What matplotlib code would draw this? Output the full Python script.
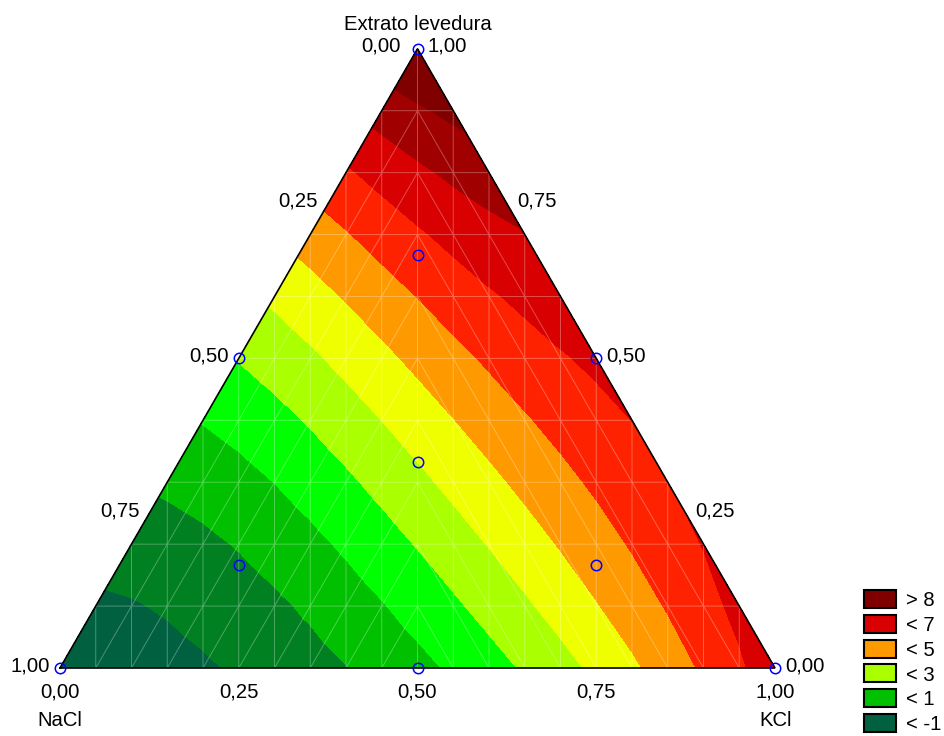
import numpy as np
import matplotlib
matplotlib.use("Agg")
import matplotlib.pyplot as plt
import matplotlib.tri as mtri
from matplotlib.patches import Rectangle

plt.rcParams['font.family'] = ['Liberation Sans', 'DejaVu Sans']

# ---------------- data ----------------
component_names = ['NaCl', 'KCl', 'Extrato levedura']
# fitted mixture model (Scheffé type), coefficients estimated from the contours
coef_linear = [-1.63, 6.60, 9.08]          # NaCl, KCl, Extrato
coef_binary = [-7.06, -6.70, -6.60]        # NaCl*KCl, NaCl*Extrato, KCl*Extrato
coef_ternary = [-8.8, 31.7, 24.2]          # N²KY, NK²Y, NKY²
# design points (fractions)
design_nacl = [1.0, 0.0, 0.0, 0.5, 0.5, 0.0, 2/3, 1/6, 1/6, 1/3]
design_kcl = [0.0, 1.0, 0.0, 0.5, 0.0, 0.5, 1/6, 2/3, 1/6, 1/3]
design_yeast = [0.0, 0.0, 1.0, 0.0, 0.5, 0.5, 1/6, 1/6, 2/3, 1/3]
contour_levels = [-1, 0, 1, 2, 3, 4, 5, 6, 7, 8]
band_colors = ['#006040', '#008020', '#00C000', '#00FF00', '#AAFF00', '#F0FF00',
               '#FF9900', '#FF2200', '#D80000', '#A00000', '#800000']
legend_labels = ['> 8', '< 7', '< 5', '< 3', '< 1', '< -1']
legend_colors = ['#800000', '#D80000', '#FF9900', '#AAFF00', '#00C000', '#006040']
tick_values = [0.0, 0.25, 0.50, 0.75, 1.0]
tick_labels = ['0,00', '0,25', '0,50', '0,75', '1,00']

# ---------------- figure ----------------
W, H = 944, 736
fig = plt.figure(figsize=(W / 100, H / 100), dpi=100)
ax = fig.add_axes([0, 0, 1, 1])
S = 715.0          # pixels per unit
X0, Y0 = 60.0, 668.0
ax.set_xlim(-X0 / S, (W - X0) / S)
ax.set_ylim((Y0 - H) / S, Y0 / S)
ax.axis('off')
h = np.sqrt(3) / 2


def tern(n, k, y):
    k = np.asarray(k, float); y = np.asarray(y, float)
    return k + y / 2, y * h


def px(x, y):
    return (x - X0) / S, (Y0 - y) / S


# mesh of the surface (rows in steps of 0.1, columns in steps of 0.05)
NY_, NX_ = 10, 20
xs, ys, index = [], [], {}
for k in range(NY_ + 1):
    for i in range(k, NX_ - k + 1):
        index[(k, i)] = len(xs)
        xs.append(i / NX_)
        ys.append(k / NY_ * h)
tris = []
for k in range(NY_):
    tris.append([index[(k, k)], index[(k, k + 1)], index[(k + 1, k + 1)]])
    tris.append([index[(k, NX_ - 1 - k)], index[(k, NX_ - k)], index[(k + 1, NX_ - 1 - k)]])
    for i in range(k + 1, NX_ - 1 - k):
        a, b = index[(k, i)], index[(k, i + 1)]
        c, d = index[(k + 1, i)], index[(k + 1, i + 1)]
        if i < NX_ // 2:
            tris += [[a, b, d], [a, d, c]]
        else:
            tris += [[a, b, c], [b, d, c]]
xs = np.array(xs); ys = np.array(ys)
Yf = ys / h
Kf = np.clip(xs - Yf / 2, 0, 1)
Nf = np.clip(1 - Kf - Yf, 0, 1)
cl, cb, ct = coef_linear, coef_binary, coef_ternary
Z = (cl[0] * Nf + cl[1] * Kf + cl[2] * Yf
     + cb[0] * Nf * Kf + cb[1] * Nf * Yf + cb[2] * Kf * Yf
     + Nf * Kf * Yf * (ct[0] * Nf + ct[1] * Kf + ct[2] * Yf))
tri = mtri.Triangulation(xs, ys, np.array(tris))

ax.tricontourf(tri, Z, levels=[-1e6] + contour_levels + [1e6], colors=band_colors)
ax.triplot(tri, color='white', lw=0.7, alpha=0.3)
ax.plot([0, 1, 0.5, 0], [0, 0, h, 0], color='black', lw=1.2, solid_joinstyle='miter')

dx, dy = tern(design_nacl, design_kcl, design_yeast)
ax.plot(dx, dy, 'o', mfc='none', mec='#0000FF', ms=7.5, mew=1.1, clip_on=False)

fs = 14.6
# left edge: NaCl fraction
for v, lab in zip(tick_values, tick_labels):
    ex, ey = tern(v, 0, 1 - v)
    off = -17 if v == 0 else -10
    ax.text(ex + off / S, ey - 3 / S, lab, ha='right', va='baseline', fontsize=fs)
# right edge: Extrato fraction
for v, lab in zip(tick_values, tick_labels):
    ex, ey = tern(0, 1 - v, v)
    ax.text(ex + 10 / S, ey - 3 / S, lab, ha='left', va='baseline', fontsize=fs)
# bottom edge: KCl fraction
for v, lab in zip(tick_values, tick_labels):
    ex, ey = tern(1 - v, v, 0)
    ax.text(ex, ey - 30 / S, lab, ha='center', va='baseline', fontsize=fs)

ax.text(*px(60, 726), component_names[0], ha='center', va='baseline', fontsize=fs)
ax.text(*px(776, 726), component_names[1], ha='center', va='baseline', fontsize=fs)
ax.text(*px(418, 30), component_names[2], ha='center', va='baseline', fontsize=fs)

# legend
for j, (lab, col) in enumerate(zip(legend_labels, legend_colors)):
    top = 590 + 24.8 * j
    llx, lly = px(864, top + 18)
    ax.add_patch(Rectangle((llx, lly), 32 / S, 18 / S, facecolor=col,
                           edgecolor='black', lw=1.5, clip_on=False))
    ax.text(*px(906, top + 9 + 7.2), lab, ha='left', va='baseline', fontsize=fs)

fig.savefig('out.png', dpi=100)
